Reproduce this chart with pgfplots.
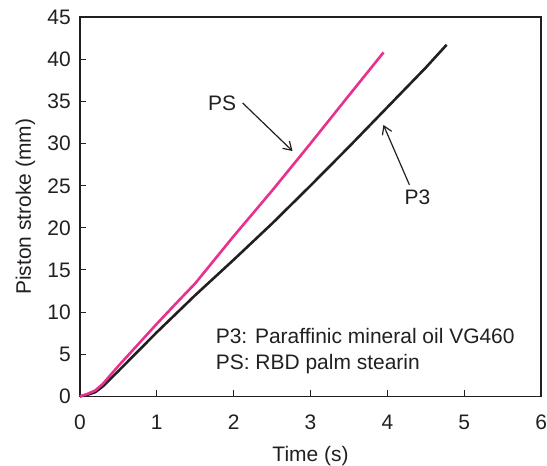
\documentclass[border=0pt]{standalone}
\usepackage{fontspec}
\setmainfont{Liberation Sans}
\usepackage{pgfplots}
\pgfplotsset{compat=1.18}
\usetikzlibrary{arrows.meta}
\definecolor{cPS}{HTML}{E8308F}
\definecolor{cP3}{HTML}{231F20}
\begin{document}
\begin{tikzpicture}[font=\fontsize{21}{25}\selectfont]
\begin{axis}[
  scale only axis, width=462pt, height=380pt,
  xmin=0, xmax=6, ymin=0, ymax=45,
  xtick={0,1,...,6}, ytick={0,5,...,45},
  tick align=inside, major tick length=6pt,
  axis line style={cP3, line width=1.4pt},
  every tick/.style={cP3, line width=1.1pt},
  xtick pos=bottom, ytick pos=left,
  /pgf/number format/assume math mode=true,
  tick label style={text=cP3, inner sep=0pt},
  x tick label style={anchor=base, yshift=-33pt},
  y tick label style={anchor=base east, xshift=-9pt, yshift=-7.5pt},
  xlabel={Time (s)}, ylabel={Piston stroke (mm)},
  every axis x label/.style={at={(axis description cs:0.5,0)}, anchor=base, inner sep=0pt, yshift=-65pt, text=cP3},
  every axis y label/.style={at={(axis description cs:0,0.5)}, rotate=90, anchor=base, inner sep=0pt, yshift=49pt, text=cP3},
  clip=false,
]
\addplot[cP3, line width=2.6pt] coordinates {(0,0) (0.1,0.2) (0.2,0.5) (0.3,1.2) (0.5,3.0) (1.0,7.6) (1.5,12.0) (2.0,16.2) (2.5,20.5) (3.0,25.0) (3.5,29.6) (4.0,34.3) (4.5,39.0) (4.77,41.7)};
\addplot[cPS, line width=2.6pt] coordinates {(0,0) (0.1,0.3) (0.2,0.7) (0.3,1.5) (0.5,3.6) (1.0,8.6) (1.3,11.5) (1.5,13.4) (2.0,19.0) (2.5,24.4) (3.0,30.0) (3.5,35.7) (3.95,40.8)};
\draw[-{Straight Barb[length=8pt,width=10pt]}, cP3, line width=1.2pt] (axis cs:2.117,34.8) -- (axis cs:2.766,29.1);
\draw[-{Straight Barb[length=8pt,width=10pt]}, cP3, line width=1.2pt] (axis cs:4.286,25.1) -- (axis cs:3.948,32.2);
\node[text=cP3] at (axis cs:1.851,34.76) {PS};
\node[text=cP3] at (axis cs:4.39,23.6) {P3};
\node[anchor=base west, inner sep=0pt, text=cP3] at (axis cs:1.766,6.28) {P3: Paraffinic mineral oil VG460};
\node[anchor=base west, inner sep=0pt, text=cP3] at (axis cs:1.766,3.2) {PS: RBD palm stearin};
\path (rel axis cs:0,0) ++(-80pt,-69pt) rectangle ++(547pt,466pt);
\end{axis}
\end{tikzpicture}
\end{document}
